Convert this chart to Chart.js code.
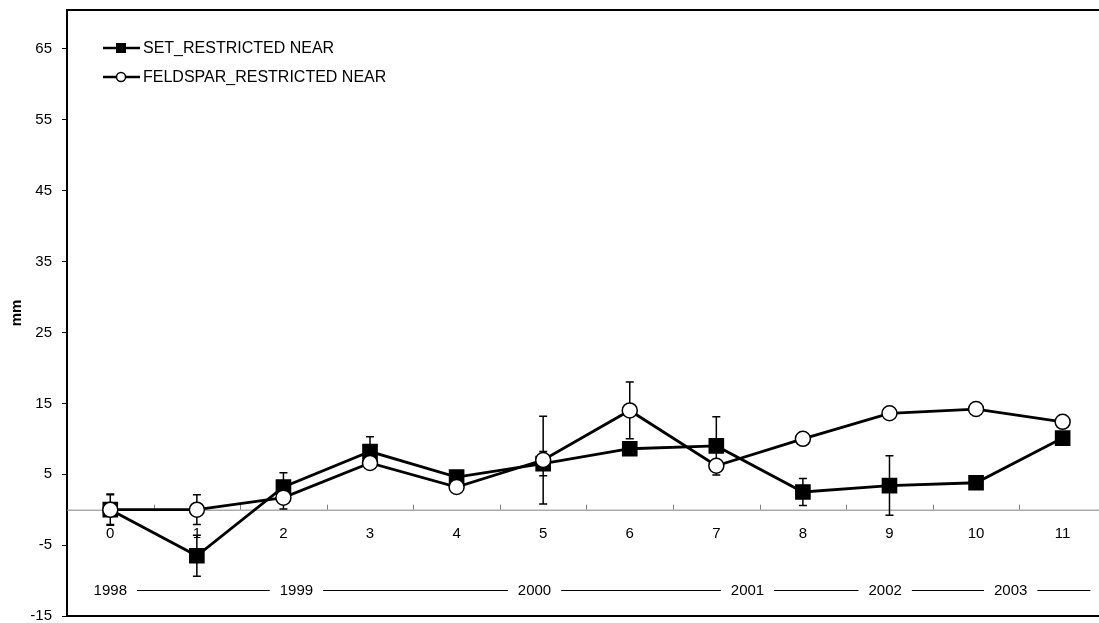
<!DOCTYPE html>
<html>
<head>
<meta charset="utf-8">
<script src="https://cdn.jsdelivr.net/npm/chart.js@4/dist/chart.umd.min.js"></script>
<style>
  html, body { margin: 0; padding: 0; background: #fff; }
  #wrap { width: 1099px; height: 623px; position: relative; }
</style>
</head>
<body>
<div id="wrap"><canvas id="chart"></canvas></div>
<script>
'use strict';

// ── Data ────────────────────────────────────────────────────
const xLabels    = ['0', '1', '2', '3', '4', '5', '6', '7', '8', '9', '10', '11'];
const setValues  = [0, -6.5, 3.2, 8.2, 4.6, 6.5, 8.6, 9.0, 2.5, 3.4, 3.8, 10.1];
const setErrors  = [2.2, 2.9, 2.0, 2.1, 0.5, 1.7, 0.5, 4.1, 1.9, 4.2, 0.5, 0.4];
const feldValues = [0, 0, 1.7, 6.6, 3.2, 7.0, 14.0, 6.2, 10.0, 13.6, 14.2, 12.4];
const feldErrors = [2.1, 2.1, 1.6, 0.5, 0.5, 6.2, 4.0, 0.6, 0.8, 0.5, 0.9, 0.3];
const yTicks     = [-15, -5, 5, 15, 25, 35, 45, 55, 65];
const yearLabels = ['1998', '1999', '2000', '2001', '2002', '2003'];
const yearAt     = [0, 2.15, 4.9, 7.36, 8.95, 10.4];
const yearRowEnd = 11.32;
const yearRowY   = -11.4;
const seriesNames = ['SET_RESTRICTED NEAR', 'FELDSPAR_RESTRICTED NEAR'];

const FONT = "'Liberation Sans', Arial, Helvetica, sans-serif";

const toPoints = vals => vals.map((v, i) => ({ x: i, y: v }));

// ── Decorations: zero line, category labels, years, error bars, frame, legend
const decor = {
  id: 'decor',
  beforeDatasetsDraw(chart) {
    const { ctx, chartArea: a, scales: { x, y } } = chart;
    const y0 = y.getPixelForValue(0);
    ctx.save();

    // zero line + ticks between categories
    ctx.strokeStyle = '#808080';
    ctx.lineWidth = 1;
    ctx.beginPath();
    ctx.moveTo(a.left, y0 + 0.5);
    ctx.lineTo(a.right, y0 + 0.5);
    for (let i = 0; i < xLabels.length; i++) {
      const px = Math.round(x.getPixelForValue(i + 0.5)) + 0.5;
      ctx.moveTo(px, y0);
      ctx.lineTo(px, y0 - 5);
    }
    ctx.stroke();

    // category labels
    ctx.fillStyle = '#000';
    ctx.font = `15px ${FONT}`;
    ctx.textAlign = 'center';
    ctx.textBaseline = 'middle';
    xLabels.forEach((l, i) => ctx.fillText(l, x.getPixelForValue(i), y0 + 24));

    // year row
    const yy = y.getPixelForValue(yearRowY);
    const centers = yearAt.map(v => x.getPixelForValue(v));
    const halfW = yearLabels.map(t => ctx.measureText(t).width / 2);
    yearLabels.forEach((t, i) => ctx.fillText(t, centers[i], yy));
    ctx.strokeStyle = '#000';
    ctx.lineWidth = 1.2;
    ctx.beginPath();
    for (let i = 0; i < yearLabels.length; i++) {
      const x1 = centers[i] + halfW[i] + 10;
      const x2 = i < yearLabels.length - 1 ? centers[i + 1] - halfW[i + 1] - 10 : x.getPixelForValue(yearRowEnd);
      ctx.moveTo(x1, yy);
      ctx.lineTo(x2, yy);
    }
    ctx.stroke();

    // error bars (behind markers)
    ctx.strokeStyle = '#000';
    ctx.lineWidth = 1.5;
    const bars = [[setValues, setErrors], [feldValues, feldErrors]];
    ctx.beginPath();
    bars.forEach(([vals, errs]) => {
      vals.forEach((v, i) => {
        const px = x.getPixelForValue(i);
        const top = y.getPixelForValue(v + errs[i]);
        const bot = y.getPixelForValue(v - errs[i]);
        ctx.moveTo(px, top); ctx.lineTo(px, bot);
        ctx.moveTo(px - 4, top); ctx.lineTo(px + 4, top);
        ctx.moveTo(px - 4, bot); ctx.lineTo(px + 4, bot);
      });
    });
    ctx.stroke();
    ctx.restore();
  },
  afterDraw(chart) {
    const { ctx, chartArea: a } = chart;
    ctx.save();

    // frame top / bottom
    ctx.strokeStyle = '#000';
    ctx.lineWidth = 2;
    ctx.beginPath();
    ctx.moveTo(a.left, a.top);
    ctx.lineTo(a.right, a.top);
    ctx.moveTo(a.left, a.bottom);
    ctx.lineTo(a.right, a.bottom);
    ctx.stroke();

    // legend
    ctx.font = `16px ${FONT}`;
    ctx.textAlign = 'left';
    ctx.textBaseline = 'middle';
    ctx.fillStyle = '#000';
    const rows = [48, 77];
    rows.forEach((ry, i) => {
      ctx.lineWidth = 2.5;
      ctx.beginPath();
      ctx.moveTo(103, ry);
      ctx.lineTo(140, ry);
      ctx.stroke();
      if (i === 0) {
        ctx.fillRect(116, ry - 5, 10, 10);
      } else {
        ctx.beginPath();
        ctx.arc(121, ry, 4.5, 0, Math.PI * 2);
        ctx.fillStyle = '#fff';
        ctx.fill();
        ctx.lineWidth = 1.5;
        ctx.stroke();
        ctx.fillStyle = '#000';
      }
      ctx.fillText(seriesNames[i], 143, ry + 1);
    });
    ctx.restore();
  }
};

new Chart(document.getElementById('chart').getContext('2d'), {
  type: 'line',
  data: {
    datasets: [
      {
        label: seriesNames[0],
        data: toPoints(setValues),
        order: 1,
        borderColor: '#000',
        borderWidth: 2.8,
        pointStyle: 'rect',
        pointRadius: 10,
        pointBackgroundColor: '#000',
        pointBorderColor: '#000',
        pointBorderWidth: 1.5,
        tension: 0
      },
      {
        label: seriesNames[1],
        data: toPoints(feldValues),
        order: 0,
        borderColor: '#000',
        borderWidth: 2.8,
        pointStyle: 'circle',
        pointRadius: 7.5,
        pointBackgroundColor: '#fff',
        pointBorderColor: '#000',
        pointBorderWidth: 1.5,
        tension: 0
      }
    ]
  },
  options: {
    responsive: true,
    maintainAspectRatio: false,
    animation: false,
    events: [],
    layout: { autoPadding: false, padding: { top: 10, right: 0, bottom: 7, left: 0 } },
    plugins: {
      legend: { display: false },
      tooltip: { enabled: false }
    },
    scales: {
      x: { type: 'linear', min: -0.5, max: 11.42, display: false },
      y: {
        min: -15,
        max: 70.5,
        afterBuildTicks: scale => { scale.ticks = yTicks.map(v => ({ value: v })); },
        afterFit: scale => { scale.width = 67; scale.paddingTop = 0; scale.paddingBottom = 0; },
        ticks: { color: '#000', padding: 10, font: { family: FONT, size: 15 } },
        grid: { drawOnChartArea: false, drawTicks: true, tickLength: 5, color: '#000', lineWidth: 1 },
        border: { display: true, color: '#000', width: 2 },
        title: { display: true, text: 'mm', color: '#000', padding: { top: 8, bottom: 0 }, font: { family: FONT, size: 15, weight: 'bold' } }
      }
    }
  },
  plugins: [decor]
});
</script>
</body>
</html>
